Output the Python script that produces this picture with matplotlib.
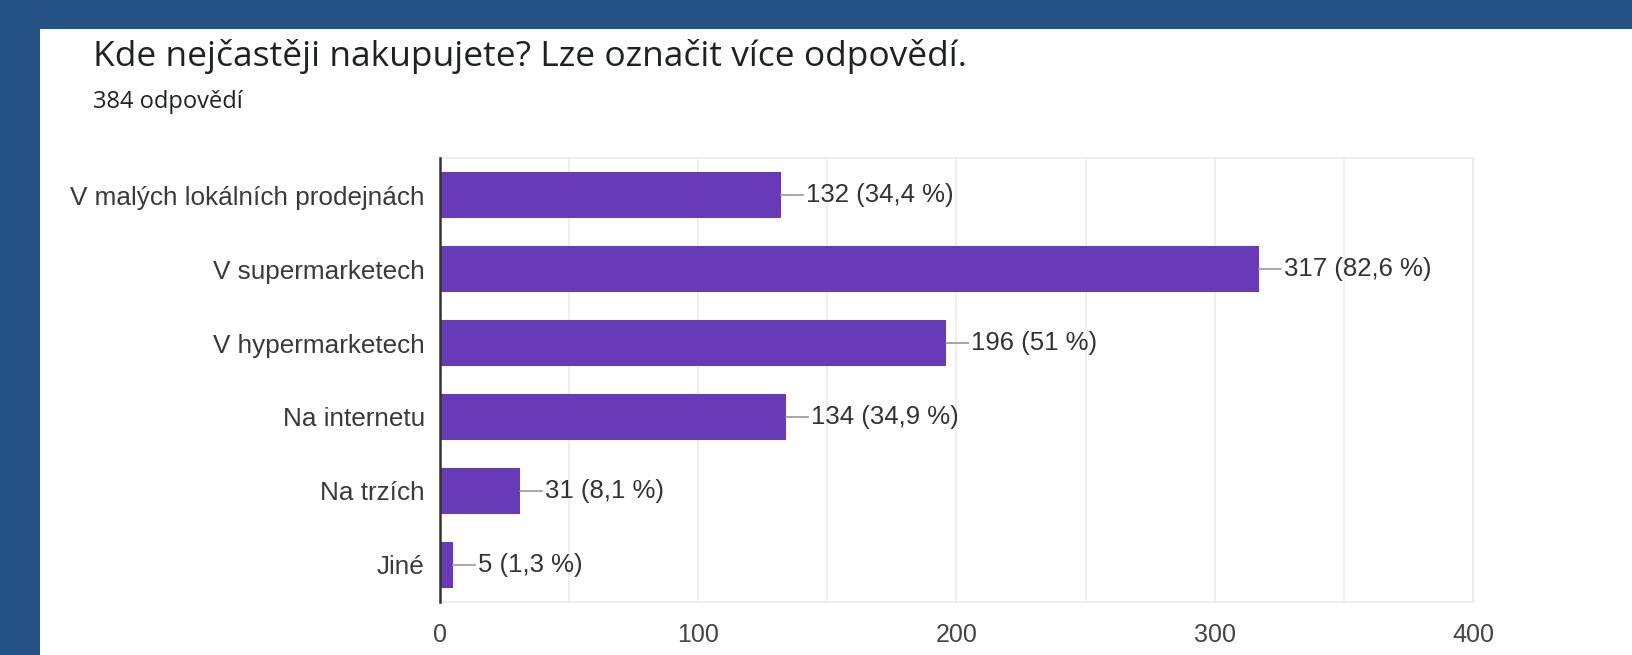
import matplotlib
matplotlib.use("Agg")
import matplotlib.pyplot as plt
from matplotlib.patches import Rectangle
from matplotlib.ticker import MultipleLocator

# data
odpovedi = ["V malých lokálních prodejnách", "V supermarketech", "V hypermarketech",
            "Na internetu", "Na trzích", "Jiné"]
pocty = [132, 317, 196, 134, 31, 5]
procenta = ["34,4", "82,6", "51", "34,9", "8,1", "1,3"]
x_ticks = [0, 100, 200, 300, 400]

titulek = "Kde nejčastěji nakupujete? Lze označit více odpovědí."
podtitulek = "384 odpovědí"

W, H = 1633, 655
fig = plt.figure(figsize=(W / 100, H / 100), dpi=100)
fig.patch.set_facecolor("#245282")

# white card
fig.add_artist(Rectangle((40 / W, 0), 1 - 40 / W, 1 - 29 / H, transform=fig.transFigure,
                         facecolor="white", edgecolor="none", zorder=0))

fig.text(93 / W, 1 - 66 / H, titulek, fontsize=25.5, family="Open Sans", color="#202124",
         va="baseline")
fig.text(93 / W, 1 - 108 / H, podtitulek, fontsize=17, family="Open Sans", color="#202124",
         va="baseline")

ax = fig.add_axes([440 / W, 53 / H, (1473 - 440) / W, (603 - 159) / H])
ax.set_facecolor("white")

y = range(len(odpovedi))
ax.barh(y, pocty, height=0.63, color="#673ab7", zorder=3)

for i, (n, p) in enumerate(zip(pocty, procenta)):
    ax.annotate(f"{n} ({p} %)", xy=(n, i), xytext=(18, 0), textcoords="offset points",
                va="center", ha="left", fontsize=18.5, family="Liberation Sans", color="#333333",
                arrowprops=dict(arrowstyle="-", color="#9e9e9e", lw=1.3,
                                shrinkA=0, shrinkB=0))

ax.set_xlim(0, 400)
ax.set_ylim(len(odpovedi) - 0.5, -0.5)
ax.set_yticks(list(y))
ax.set_yticklabels(odpovedi, family="Liberation Sans", fontsize=18.8, color="#3a3a3a")
ax.set_xticks(x_ticks)
ax.set_xticklabels([str(t) for t in x_ticks], family="Liberation Sans", fontsize=18,
                   color="#444444")
ax.xaxis.set_minor_locator(MultipleLocator(50))
ax.tick_params(axis="both", which="both", length=0)
ax.tick_params(axis="y", pad=11)
ax.tick_params(axis="x", pad=15)
ax.grid(axis="x", which="both", color="#ebebeb", lw=1.2, zorder=0)

for s in ["top", "right", "bottom"]:
    ax.spines[s].set_color("#ebebeb")
    ax.spines[s].set_linewidth(1.2)
ax.spines["left"].set_color("#333333")
ax.spines["left"].set_linewidth(1.8)
ax.spines["left"].set_zorder(4)

fig.savefig("out.png", dpi=100, facecolor=fig.get_facecolor())
